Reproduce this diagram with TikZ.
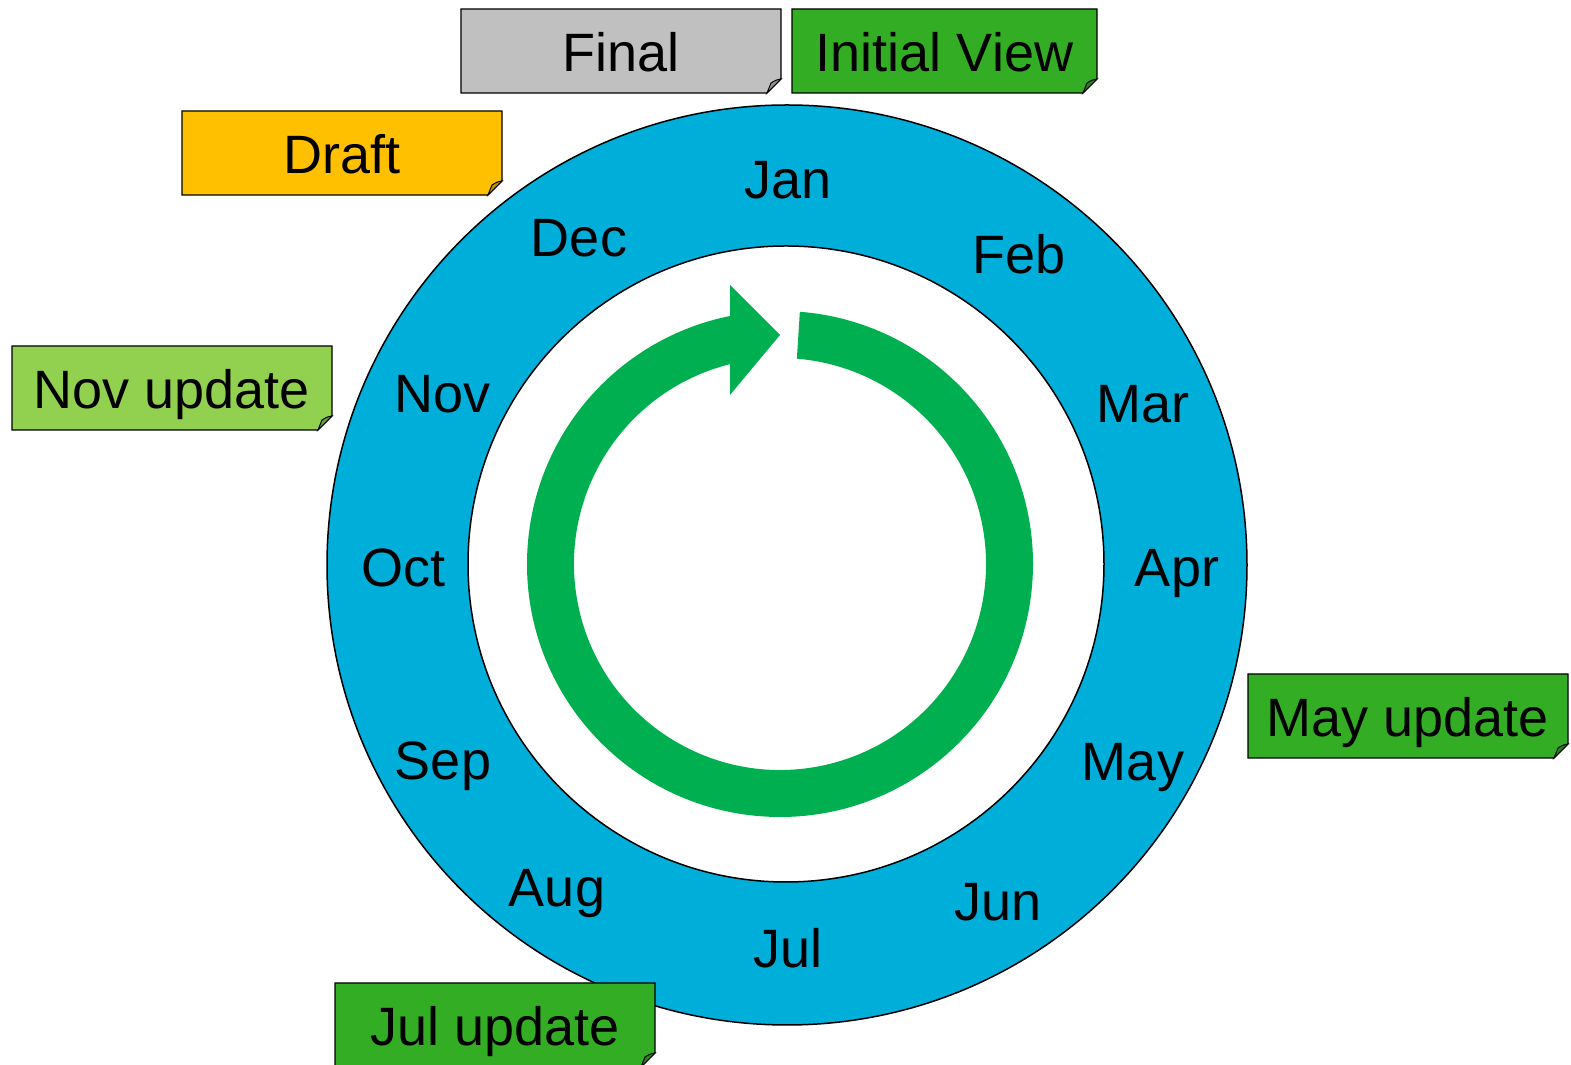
\documentclass[tikz,border=0pt]{standalone}
\usepackage{fontspec}
\setmainfont{Liberation Sans}

\definecolor{ringblue}{RGB}{0,174,218}
\definecolor{arrowgreen}{RGB}{0,176,80}
\definecolor{notegreen}{RGB}{51,173,36}
\definecolor{notelime}{RGB}{146,208,80}
\definecolor{noteamber}{RGB}{255,192,0}
\definecolor{notegrey}{RGB}{192,192,192}

\tikzset{
  month/.style={anchor=base, font=\fontsize{27}{30}\selectfont},
  notecard/.style={draw=black, line width=0.7pt, line join=miter},
  notetext/.style={anchor=base, font=\fontsize{27}{30}\selectfont},
}

% name, colour, x, y (lower left), width, text
\newcommand{\stickynote}[6]{%
  \filldraw[notecard, fill=#2] (#3,{#4+84}) -- ({#3+#5},{#4+84}) -- ({#3+#5},{#4+14}) -- ({#3+#5-14},#4) -- (#3,#4) -- cycle;
  \filldraw[notecard, fill=#2!75!black, line width=0.5pt] ({#3+#5},{#4+14}) .. controls ({#3+#5-5},{#4+13}) .. ({#3+#5-10},{#4+10}) -- ({#3+#5-14},#4) -- cycle;
  \node[notetext] (#1) at ({#3+#5/2},{#4+21}) {#6};
}

\begin{document}
\begin{tikzpicture}[x=0.5pt, y=0.5pt]
\clip (0,0) rectangle (1571,1065);

% year ring
\filldraw[fill=ringblue, line width=0.75pt] (787,500) circle[radius=460];
\filldraw[fill=white, line width=0.75pt] (786,501) circle[radius=318];

% cycle arrow
\coordinate (hub) at (780,501);
\fill[arrowgreen] ([shift={(85.5:253)}]hub) arc[start angle=85.5, end angle=-258.6, radius=253]
  -- (730,780) -- (780,730) -- (730,670)
  -- ([shift={(-256:206)}]hub) arc[start angle=-256, end angle=85.3, radius=206] -- cycle;

% months
\node[month] (jan) at (788,866) {Jan};
\node[month] (feb) at (1019,791) {Feb};
\node[month] (mar) at (1143,642) {Mar};
\node[month] (apr) at (1177,478) {Apr};
\node[month] (may) at (1133,284) {May};
\node[month] (jun) at (998,144) {Jun};
\node[month] (jul) at (788,97) {Jul};
\node[month] (aug) at (557,158) {Aug};
\node[month] (sep) at (443,285) {Sep};
\node[month] (oct) at (403,478) {Oct};
\node[month] (nov) at (443,652) {Nov};
\node[month] (dec) at (579,808) {Dec};

% notes
\stickynote{final}{notegrey}{461}{972}{320}{Final}
\stickynote{initial}{notegreen}{792}{972}{305}{Initial View}
\stickynote{draft}{noteamber}{182}{870}{320}{Draft}
\stickynote{novupd}{notelime}{12}{635}{320}{Nov update}
\stickynote{mayupd}{notegreen}{1248}{307}{320}{May update}
\stickynote{julupd}{notegreen}{335}{-2}{320}{Jul update}
\end{tikzpicture}
\end{document}
